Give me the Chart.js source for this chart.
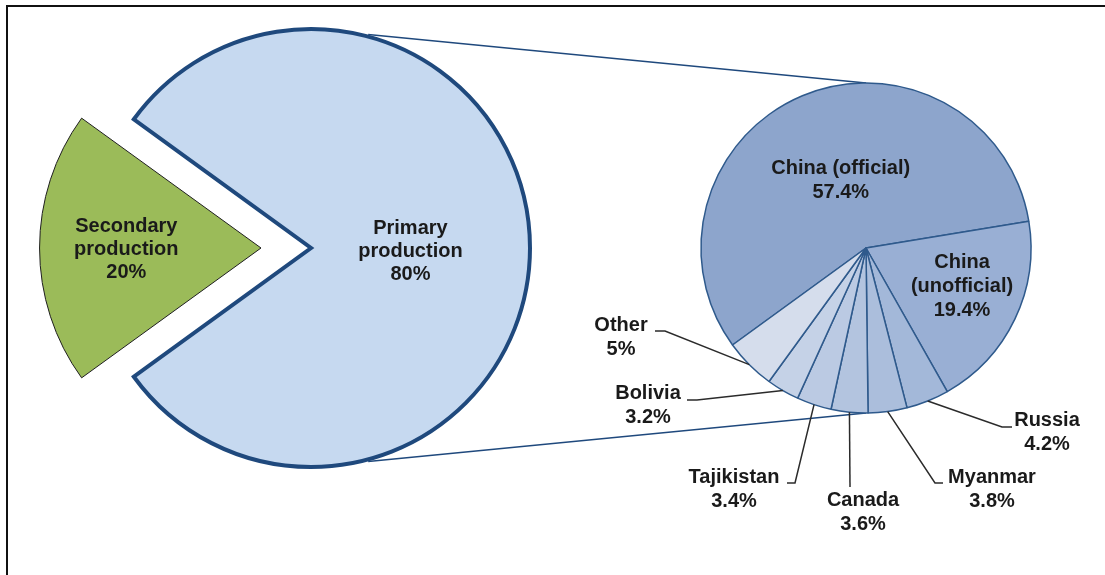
<!DOCTYPE html>
<html lang="en">
<head>
<meta charset="UTF-8">
<title>Primary and secondary production</title>
<script src="https://cdn.jsdelivr.net/npm/chart.js@4/dist/chart.umd.min.js"></script>
<style>
  body { margin: 0; background: #fff; overflow: hidden; }
  .frame {
    position: absolute; left: 6px; top: 5px;
    width: 1120px; height: 600px;
    border-left: 2px solid #111; border-top: 2px solid #111;
  }
  canvas { position: absolute; left: 0; top: 0; }
</style>
</head>
<body>
<div class="frame"></div>
<canvas id="mainPie" width="1105" height="575"></canvas>
<canvas id="detailPie" width="1105" height="575"></canvas>
<script>
// production split
const productionLabels = ['Primary\nproduction', 'Secondary\nproduction'];
const productionValues = [80, 20];
const productionColors = ['#C6D9F0', '#9BBB59'];

// breakdown of primary production by country
const countryLabels = ['China (official)', 'China\n(unofficial)', 'Russia', 'Myanmar', 'Canada', 'Tajikistan', 'Bolivia', 'Other'];
const countryValues = [57.4, 19.4, 4.2, 3.8, 3.6, 3.4, 3.2, 5];
const countryColors = ['#8DA5CC', '#99AFD4', '#A3B8D9', '#ABBEDC', '#B3C4DF', '#BBCAE3', '#C5D2E7', '#D5DDEC'];

// label placement: inside ones by fraction of radius along the slice middle,
// outside ones as offsets from the pie centre (text, leader elbow, leader end)
const productionLabelPos = [
  { f: 0.454, dx: 0, dy: 3 },
  { f: 0.615, dx: 0, dy: 1 }
];
const countryLabelPos = [
  { f: 0.444, dx: 3, dy: 0 },
  { f: 0.645, dx: 0, dy: -7 },
  { text: [181, 172], elbow: [136, 179], end: [146, 179] },
  { text: [126, 229], elbow: [69, 235], end: [77, 235] },
  { text: [-3, 252], elbow: [-16, 239], end: [-16, 239] },
  { text: [-132, 229], elbow: [-71, 235], end: [-79, 235] },
  { text: [-218, 145], elbow: [-169, 152], end: [-179, 152] },
  { text: [-245, 77], elbow: [-201, 83], end: [-211, 83] }
];

const FONT = 'bold 20px "Liberation Sans", Arial, sans-serif';
const connectorAngle = 75;

function pct(v) { return v + '%'; }

function drawBlock(ctx, lines, x, y, lh) {
  const y0 = y - (lines.length - 1) * lh / 2;
  lines.forEach((t, i) => ctx.fillText(t, x, y0 + i * lh));
}

function insideLabels(labels, values, pos, lh) {
  return {
    id: 'insideLabels',
    afterDatasetsDraw(chart) {
      const ctx = chart.ctx;
      const arcs = chart.getDatasetMeta(0).data;
      ctx.save();
      ctx.font = FONT;
      ctx.fillStyle = '#1a1a1a';
      ctx.textAlign = 'center';
      ctx.textBaseline = 'middle';
      arcs.forEach((arc, i) => {
        const p = pos[i];
        if (p.f === undefined) return;
        const mid = (arc.startAngle + arc.endAngle) / 2;
        const shift = (arc.options.offset || 0) / 4;
        const cx = arc.x + Math.cos(mid) * shift;
        const cy = arc.y + Math.sin(mid) * shift;
        const r = arc.outerRadius * p.f;
        const lines = labels[i].split('\n').concat(pct(values[i]));
        drawBlock(ctx, lines, cx + Math.cos(mid) * r + p.dx, cy + Math.sin(mid) * r + p.dy, lh);
      });
      ctx.restore();
    }
  };
}

const mainChart = new Chart(document.getElementById('mainPie'), {
  type: 'pie',
  data: {
    labels: productionLabels,
    datasets: [{
      data: productionValues,
      backgroundColor: productionColors,
      borderColor: ['#1F497D', '#1e1e1e'],
      borderWidth: [4, 1],
      borderJoinStyle: 'miter',
      offset: [0, 200]
    }]
  },
  options: {
    responsive: false,
    animation: false,
    events: [],
    rotation: 306,
    radius: 219,
    layout: { padding: { left: 0, right: 483, top: 0, bottom: 79 } },
    plugins: { legend: { display: false }, tooltip: { enabled: false } }
  },
  plugins: [insideLabels(productionLabels, productionValues, productionLabelPos, 23)]
});

// lines linking the two pies, plus leader lines for the small slices
const linkPlugin = {
  id: 'links',
  beforeDatasetsDraw(chart) {
    const a = mainChart.getDatasetMeta(0).data[0];
    const b = chart.getDatasetMeta(0).data[0];
    const ra = a.outerRadius + a.options.borderWidth / 2;
    const ang = connectorAngle * Math.PI / 180;
    const ctx = chart.ctx;
    ctx.save();
    ctx.strokeStyle = '#1F497D';
    ctx.lineWidth = 1.5;
    [-1, 1].forEach(s => {
      ctx.beginPath();
      ctx.moveTo(a.x + Math.cos(ang) * ra, a.y + s * Math.sin(ang) * ra);
      ctx.lineTo(b.x, b.y + s * b.outerRadius);
      ctx.stroke();
    });
    ctx.restore();
  },
  afterDatasetsDraw(chart) {
    const ctx = chart.ctx;
    const arcs = chart.getDatasetMeta(0).data;
    ctx.save();
    ctx.font = FONT;
    ctx.textAlign = 'center';
    ctx.textBaseline = 'middle';
    arcs.forEach((arc, i) => {
      const p = countryLabelPos[i];
      if (!p.text) return;
      const mid = (arc.startAngle + arc.endAngle) / 2;
      ctx.strokeStyle = '#2b2b2b';
      ctx.lineWidth = 1.5;
      ctx.beginPath();
      ctx.moveTo(arc.x + Math.cos(mid) * arc.outerRadius, arc.y + Math.sin(mid) * arc.outerRadius);
      ctx.lineTo(arc.x + p.elbow[0], arc.y + p.elbow[1]);
      ctx.lineTo(arc.x + p.end[0], arc.y + p.end[1]);
      ctx.stroke();
      ctx.fillStyle = '#1a1a1a';
      const lines = countryLabels[i].split('\n').concat(pct(countryValues[i]));
      lines.forEach((t, k) => ctx.fillText(t, arc.x + p.text[0], arc.y + p.text[1] + k * 24));
    });
    ctx.restore();
  }
};

new Chart(document.getElementById('detailPie'), {
  type: 'pie',
  data: {
    labels: countryLabels,
    datasets: [{
      data: countryValues,
      backgroundColor: countryColors,
      borderColor: '#2F5A8C',
      borderWidth: 1.5
    }]
  },
  options: {
    responsive: false,
    animation: false,
    events: [],
    rotation: 234,
    radius: 165,
    layout: { padding: { left: 627, right: 0, top: 0, bottom: 79 } },
    plugins: { legend: { display: false }, tooltip: { enabled: false } }
  },
  plugins: [linkPlugin, insideLabels(countryLabels, countryValues, countryLabelPos, 24)]
});
</script>
</body>
</html>
